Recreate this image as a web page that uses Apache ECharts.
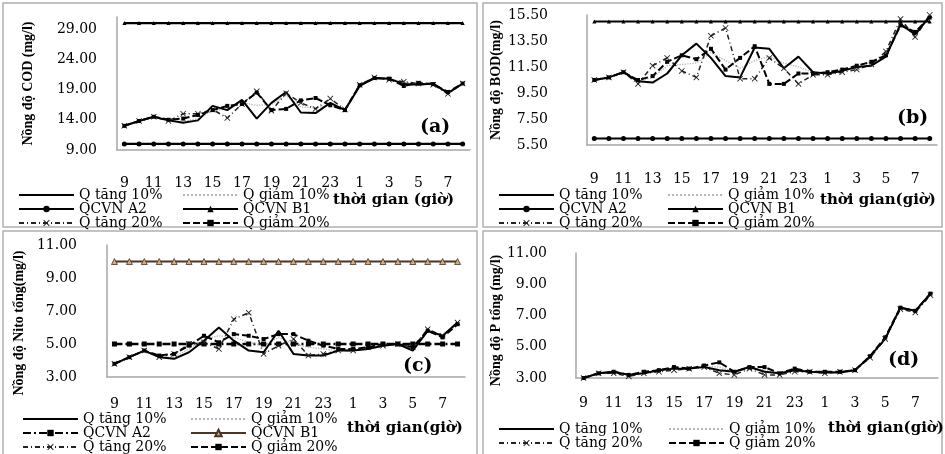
<!DOCTYPE html>
<html>
<head>
<meta charset="utf-8">
<script src="https://cdn.jsdelivr.net/npm/echarts@6/dist/echarts.min.js"></script>
<style>
html, body { margin: 0; padding: 0; background: #fff; }
#chart { width: 945px; height: 454px; }
</style>
</head>
<body>
<div id="chart"></div>
<script>
// trục giờ: 9h hôm trước -> 8h hôm sau
var hours = ['9','10','11','12','13','14','15','16','17','18','19','20','21','22','23','0','1','2','3','4','5','6','7','8'];

var codTicks = [9, 14, 19, 24, 29];
var bodTicks = [5.5, 7.5, 9.5, 11.5, 13.5, 15.5];
var nitoTicks = [3, 5, 7, 9, 11];
var pTicks = [3, 5, 7, 9, 11];

// (a) COD
var codTang10 = [13.0, 13.8, 14.5, 13.9, 13.5, 13.9, 16.3, 15.6, 17.3, 14.2, 16.8, 18.6, 15.2, 15.1, 16.8, 15.6, 19.6, 20.9, 20.8, 19.9, 19.8, 20.0, 18.4, 20.0];
var codGiam10 = [13.0, 13.8, 14.5, 13.9, 13.7, 14.2, 15.5, 15.8, 16.8, 16.4, 16.5, 18.0, 16.1, 16.0, 16.4, 15.6, 19.6, 20.8, 20.7, 20.2, 19.9, 19.9, 18.4, 19.9];
var codA2 = [10, 10, 10, 10, 10, 10, 10, 10, 10, 10, 10, 10, 10, 10, 10, 10, 10, 10, 10, 10, 10, 10, 10, 10];
var codB1 = [30, 30, 30, 30, 30, 30, 30, 30, 30, 30, 30, 30, 30, 30, 30, 30, 30, 30, 30, 30, 30, 30, 30, 30];
var codTang20 = [13.0, 13.8, 14.5, 13.8, 15.0, 15.0, 15.7, 14.3, 16.6, 18.7, 15.5, 18.4, 16.8, 15.8, 17.5, 15.7, 19.8, 21.0, 20.6, 20.3, 20.0, 19.8, 18.3, 20.0];
var codGiam20 = [13.0, 13.8, 14.5, 14.0, 14.2, 14.8, 15.6, 16.3, 16.6, 18.5, 15.6, 15.8, 17.2, 17.6, 16.4, 15.6, 19.7, 20.9, 20.8, 19.6, 20.1, 19.9, 18.6, 20.0];

// (b) BOD
var bodTang10 = [10.5, 10.7, 11.1, 10.4, 10.3, 11.0, 12.4, 13.3, 12.2, 10.8, 10.7, 13.0, 12.9, 11.4, 12.3, 11.1, 11.0, 11.2, 11.5, 11.6, 12.3, 14.8, 14.0, 15.4];
var bodGiam10 = [10.5, 10.7, 11.1, 10.4, 10.7, 11.6, 11.7, 11.8, 12.6, 12.0, 11.4, 12.0, 12.3, 11.8, 11.5, 11.1, 11.0, 11.2, 11.5, 11.8, 12.3, 14.9, 14.0, 15.4];
var bodA2 = [6, 6, 6, 6, 6, 6, 6, 6, 6, 6, 6, 6, 6, 6, 6, 6, 6, 6, 6, 6, 6, 6, 6, 6];
var bodB1 = [15, 15, 15, 15, 15, 15, 15, 15, 15, 15, 15, 15, 15, 15, 15, 15, 15, 15, 15, 15, 15, 15, 15, 15];
var bodTang20 = [10.5, 10.7, 11.1, 10.2, 11.6, 12.2, 11.2, 10.7, 13.9, 14.5, 10.6, 10.6, 12.2, 11.4, 10.2, 10.9, 10.9, 11.1, 11.3, 11.7, 12.7, 15.2, 13.8, 15.5];
var bodGiam20 = [10.5, 10.7, 11.1, 10.5, 10.8, 11.9, 12.4, 12.1, 12.9, 11.3, 12.2, 13.1, 10.2, 10.2, 11.0, 11.0, 11.1, 11.3, 11.6, 11.9, 12.4, 14.7, 14.2, 15.3];

// (c) Nito tổng
var nitoTang10 = [3.8, 4.2, 4.6, 4.2, 4.1, 4.5, 5.2, 6.0, 5.2, 4.6, 4.5, 5.8, 4.4, 4.3, 4.3, 4.6, 4.6, 4.7, 4.9, 5.0, 4.6, 5.8, 5.5, 6.3];
var nitoGiam10 = [3.8, 4.2, 4.6, 4.2, 4.2, 4.7, 5.3, 5.5, 5.4, 5.1, 4.9, 5.4, 5.0, 4.8, 4.7, 4.6, 4.6, 4.7, 4.9, 5.0, 4.7, 5.8, 5.5, 6.2];
var nitoA2 = [5, 5, 5, 5, 5, 5, 5, 5, 5, 5, 5, 5, 5, 5, 5, 5, 5, 5, 5, 5, 5, 5, 5, 5];
var nitoB1 = [10, 10, 10, 10, 10, 10, 10, 10, 10, 10, 10, 10, 10, 10, 10, 10, 10, 10, 10, 10, 10, 10, 10, 10];
var nitoTang20 = [3.8, 4.2, 4.6, 4.2, 4.4, 5.0, 5.1, 4.7, 6.5, 6.9, 4.4, 4.9, 5.3, 4.3, 4.4, 4.6, 4.6, 4.8, 4.9, 5.0, 4.8, 5.9, 5.5, 6.3];
var nitoGiam20 = [3.8, 4.2, 4.6, 4.3, 4.4, 4.9, 5.5, 5.1, 5.6, 5.5, 5.3, 5.6, 5.6, 5.2, 4.9, 4.7, 4.7, 4.8, 5.0, 5.0, 4.8, 5.8, 5.4, 6.2];

// (d) P tổng
var pTang10 = [3.0, 3.3, 3.4, 3.2, 3.3, 3.5, 3.6, 3.6, 3.7, 3.5, 3.4, 3.7, 3.4, 3.3, 3.5, 3.4, 3.35, 3.35, 3.5, 4.4, 5.5, 7.5, 7.3, 8.4];
var pGiam10 = [3.0, 3.3, 3.4, 3.2, 3.35, 3.45, 3.6, 3.6, 3.75, 3.7, 3.4, 3.7, 3.5, 3.3, 3.5, 3.4, 3.35, 3.4, 3.5, 4.4, 5.5, 7.5, 7.3, 8.4];
var pTang20 = [3.0, 3.3, 3.3, 3.1, 3.3, 3.4, 3.5, 3.6, 3.7, 3.3, 3.2, 3.6, 3.2, 3.2, 3.4, 3.4, 3.3, 3.4, 3.5, 4.3, 5.5, 7.4, 7.2, 8.3];
var pGiam20 = [3.0, 3.3, 3.4, 3.2, 3.4, 3.5, 3.7, 3.6, 3.8, 4.0, 3.4, 3.7, 3.7, 3.3, 3.6, 3.4, 3.4, 3.4, 3.5, 4.4, 5.6, 7.5, 7.3, 8.4];

var serifFont = 'DejaVu Serif';
var axisGray = '#a6a6a6';
var xMark = 'path://M0,1L1,0L5,4L9,0L10,1L6,5L10,9L9,10L5,6L1,10L0,9L4,5Z';

// kiểu đường cho từng chuỗi
var sty = {
    tang10: { symbol: 'none', lineStyle: { color: '#000', width: 2 }, itemStyle: { color: '#000' } },
    giam10: { symbol: 'none', lineStyle: { color: '#b5b5b5', width: 1.3, type: 'dotted' }, itemStyle: { color: '#b5b5b5' } },
    a2: { symbol: 'circle', symbolSize: 5, lineStyle: { color: '#000', width: 2.2 }, itemStyle: { color: '#000' } },
    b1: { symbol: 'triangle', symbolSize: 4, lineStyle: { color: '#000', width: 2.2 }, itemStyle: { color: '#000' } },
    tang20: { symbol: xMark, symbolSize: 6, lineStyle: { color: '#222', width: 1.5, type: [5, 3, 1, 3] }, itemStyle: { color: '#222' } },
    giam20: { symbol: 'rect', symbolSize: 4, lineStyle: { color: '#000', width: 2, type: [7, 3] }, itemStyle: { color: '#000' } },
    a2c: { symbol: 'rect', symbolSize: 5, lineStyle: { color: '#000', width: 2.4, type: [8, 3, 2, 3] }, itemStyle: { color: '#000' } },
    b1c: { symbol: 'triangle', symbolSize: 6, lineStyle: { color: '#4a3526', width: 1.8 }, itemStyle: { color: '#d4aa80', borderColor: '#4a3526', borderWidth: 0.8 } }
};

function line(name, panel, idx, data, st) {
    return Object.assign({
        type: 'line', name: name + '#' + panel,
        xAxisIndex: idx, yAxisIndex: idx, data: data,
        animation: false, showSymbol: true
    }, st);
}

function xAx(idx, margin) {
    return {
        type: 'category', gridIndex: idx, data: hours, boundaryGap: true,
        axisLine: { lineStyle: { color: axisGray, width: 1.5 } },
        axisTick: { show: false },
        axisLabel: { interval: 1, margin: margin, fontFamily: serifFont, fontSize: 14, color: '#000' }
    };
}

function yAx(idx, min, max, ticks, name, gap, margin, namePad) {
    return {
        type: 'value', gridIndex: idx, min: min, max: max,
        name: name, nameLocation: 'middle', nameRotate: 90, nameGap: gap,
        nameTextStyle: { fontFamily: 'Liberation Serif', fontWeight: 'bold', fontSize: 14, color: '#000', padding: namePad || 0 },
        axisLine: { show: true, lineStyle: { color: axisGray, width: 1.5 } },
        axisTick: { show: false },
        splitLine: { show: false },
        axisLabel: {
            customValues: ticks, margin: margin,
            fontFamily: serifFont, fontSize: 14, color: '#000',
            formatter: function (v) { return v.toFixed(2); }
        }
    };
}

var noMarker = ['Q tăng 10%', 'Q giảm 10%'];
function leg(names, panel, left, top) {
    return {
        orient: 'vertical', left: left, top: top, padding: 0, itemGap: 0,
        itemWidth: 55, itemHeight: 8, selectedMode: false,
        data: names.map(function (n) {
            var d = { name: n + '#' + panel };
            if (noMarker.indexOf(n) >= 0) d.itemStyle = { opacity: 0 };
            return d;
        }),
        formatter: function (n) { return n.split('#')[0]; },
        textStyle: { fontFamily: serifFont, fontSize: 14, lineHeight: 11.5, color: '#000' }
    };
}

function frame(x, y, w, h) {
    return { type: 'rect', shape: { x: x, y: y, width: w, height: h }, style: { fill: 'none', stroke: '#b0b0b0', lineWidth: 1.5 }, silent: true };
}
function tag(text, x, y, size) {
    return { type: 'text', x: x, y: y, style: { text: text, fontFamily: serifFont, fontWeight: 'bold', fontSize: size, fill: '#000', verticalAlign: 'middle' }, silent: true };
}

var myChart = echarts.init(document.getElementById('chart'));
myChart.setOption({
    backgroundColor: '#fff',
    animation: false,
    grid: [
        { left: 117, top: 17, width: 353, height: 133 },
        { left: 587, top: 15, width: 350, height: 130 },
        { left: 107, top: 245, width: 358, height: 132 },
        { left: 576, top: 253, width: 362, height: 125 }
    ],
    xAxis: [xAx(0, 26), xAx(1, 27), xAx(2, 20), xAx(3, 18)],
    yAxis: [
        yAx(0, 9, 31, codTicks, 'Nồng độ COD (mg/l)', 82, 20),
        yAx(1, 5.5, 15.5, bodTicks, 'Nồng độ BOD(mg/l)', 84, 39),
        yAx(2, 3, 11, nitoTicks, 'Nồng độ Nito tổng(mg/l)', 81, 30, [0, 24, 0, 0]),
        yAx(3, 3, 11, pTicks, 'Nồng độ P tổng (mg/l)', 72, 29, [0, 10, 0, 0])
    ],
    legend: [
        leg(['Q tăng 10%', 'QCVN A2', 'Q tăng 20%'], 'a', 18, 188),
        leg(['Q giảm 10%', 'QCVN B1', 'Q giảm 20%'], 'a', 182, 188),
        leg(['Q tăng 10%', 'QCVN A2', 'Q tăng 20%'], 'b', 498, 188),
        leg(['Q giảm 10%', 'QCVN B1', 'Q giảm 20%'], 'b', 667, 188),
        leg(['Q tăng 10%', 'QCVN A2', 'Q tăng 20%'], 'c', 22, 412),
        leg(['Q giảm 10%', 'QCVN B1', 'Q giảm 20%'], 'c', 190, 412),
        leg(['Q tăng 10%', 'Q tăng 20%'], 'd', 498, 422),
        leg(['Q giảm 10%', 'Q giảm 20%'], 'd', 668, 422)
    ],
    graphic: [
        frame(3, 3, 474, 224),
        frame(483, 3, 459, 224),
        frame(3, 231, 474, 230),
        frame(483, 231, 459, 230),
        tag('(a)', 420, 127, 19),
        tag('(b)', 897, 118, 19),
        tag('(c)', 403, 366, 19),
        tag('(d)', 888, 360, 19),
        tag('thời gian (giờ)', 333, 200, 15),
        tag('thời gian(giờ)', 820, 200, 15),
        tag('thời gian(giờ)', 347, 428, 15),
        tag('thời gian(giờ)', 828, 428, 15)
    ],
    series: [
        line('QCVN A2', 'a', 0, codA2, sty.a2),
        line('QCVN B1', 'a', 0, codB1, sty.b1),
        line('Q giảm 10%', 'a', 0, codGiam10, sty.giam10),
        line('Q tăng 20%', 'a', 0, codTang20, sty.tang20),
        line('Q giảm 20%', 'a', 0, codGiam20, sty.giam20),
        line('Q tăng 10%', 'a', 0, codTang10, sty.tang10),

        line('QCVN A2', 'b', 1, bodA2, sty.a2),
        line('QCVN B1', 'b', 1, bodB1, sty.b1),
        line('Q giảm 10%', 'b', 1, bodGiam10, sty.giam10),
        line('Q tăng 20%', 'b', 1, bodTang20, sty.tang20),
        line('Q giảm 20%', 'b', 1, bodGiam20, sty.giam20),
        line('Q tăng 10%', 'b', 1, bodTang10, sty.tang10),

        line('QCVN A2', 'c', 2, nitoA2, sty.a2c),
        line('QCVN B1', 'c', 2, nitoB1, sty.b1c),
        line('Q giảm 10%', 'c', 2, nitoGiam10, sty.giam10),
        line('Q tăng 20%', 'c', 2, nitoTang20, sty.tang20),
        line('Q giảm 20%', 'c', 2, nitoGiam20, sty.giam20),
        line('Q tăng 10%', 'c', 2, nitoTang10, sty.tang10),

        line('Q giảm 10%', 'd', 3, pGiam10, sty.giam10),
        line('Q tăng 20%', 'd', 3, pTang20, sty.tang20),
        line('Q giảm 20%', 'd', 3, pGiam20, sty.giam20),
        line('Q tăng 10%', 'd', 3, pTang10, sty.tang10)
    ]
});
</script>
</body>
</html>
